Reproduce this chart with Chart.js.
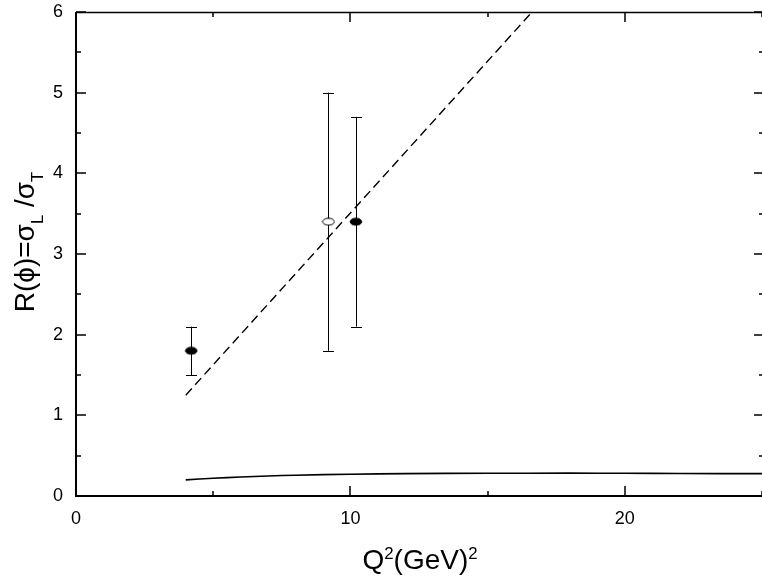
<!DOCTYPE html>
<html>
<head>
<meta charset="utf-8">
<script src="https://cdn.jsdelivr.net/npm/chart.js@4.4.1/dist/chart.umd.min.js"></script>
<style>
  html, body { margin: 0; padding: 0; background: #fff; }
  #wrap { width: 762px; height: 582px; }
</style>
</head>
<body>
<div id="wrap"><canvas id="chart"></canvas></div>
<script>
// measured points, filled (black) and open
const qFilled = [4.2, 10.2];
const rFilled = [1.8, 3.4];
const rFilledLo = [1.5, 2.1];
const rFilledHi = [2.1, 4.7];

const qOpen = [9.2];
const rOpen = [3.4];
const rOpenLo = [1.8];
const rOpenHi = [5.0];

// dashed straight line
const fitQ = [4.0, 16.62];
const fitR = [1.25, 6.0];

// solid theory curve
const curveQ = [4.0, 5.0, 6.0, 7.0, 8.0, 10.0, 12.0, 15.0, 18.0, 20.0, 22.0, 25.0];
const curveR = [0.20, 0.22, 0.235, 0.248, 0.258, 0.27, 0.277, 0.282, 0.283, 0.282, 0.279, 0.277];

const xTickValues = [0, 10, 20];
const yTickValues = [0, 1, 2, 3, 4, 5, 6];
const xMinorValues = [5, 15, 25];
const yMinorValues = [0.5, 1.5, 2.5, 3.5, 4.5, 5.5];

const FONT = "'Liberation Sans', Arial, sans-serif";

function toPoints(xs, ys) {
    return xs.map((x, i) => ({ x: x, y: ys[i] }));
}

function ellipseMarker(fill) {
    const c = document.createElement("canvas");
    c.width = 14;
    c.height = 9;
    const g = c.getContext("2d");
    g.beginPath();
    g.ellipse(7, 4.5, 5.8, 3.5, 0, 0, 2 * Math.PI);
    g.fillStyle = fill;
    g.fill();
    g.lineWidth = 1;
    g.strokeStyle = "#000";
    g.stroke();
    return c;
}

// error bars drawn under the markers
const errorBars = {
    id: "errorBars",
    beforeDatasetsDraw(chart) {
        const { ctx, scales: { x, y } } = chart;
        const sets = [
            [qFilled, rFilledLo, rFilledHi],
            [qOpen, rOpenLo, rOpenHi]
        ];
        ctx.save();
        ctx.strokeStyle = "#000";
        ctx.lineWidth = 1;
        sets.forEach(([qs, lo, hi]) => {
            qs.forEach((q, i) => {
                const px = Math.round(x.getPixelForValue(q)) + 0.5;
                const pLo = y.getPixelForValue(lo[i]);
                const pHi = y.getPixelForValue(hi[i]);
                ctx.beginPath();
                ctx.moveTo(px, pLo);
                ctx.lineTo(px, pHi);
                ctx.moveTo(px - 5.5, Math.round(pLo) + 0.5);
                ctx.lineTo(px + 5.5, Math.round(pLo) + 0.5);
                ctx.moveTo(px - 5.5, Math.round(pHi) + 0.5);
                ctx.lineTo(px + 5.5, Math.round(pHi) + 0.5);
                ctx.stroke();
            });
        });
        ctx.restore();
    }
};

// frame with inward ticks, plus axis titles
function richText(ctx, parts, size) {
    let w = 0;
    parts.forEach(p => {
        ctx.font = `${size * p.s}px ${FONT}`;
        p.w = ctx.measureText(p.t).width;
        w += p.w;
    });
    return w;
}

function drawRich(ctx, parts, size, x0, y0) {
    let x = x0;
    parts.forEach(p => {
        ctx.font = `${size * p.s}px ${FONT}`;
        ctx.fillText(p.t, x, y0 + p.dy * size);
        x += p.w;
    });
}

const frame = {
    id: "frame",
    afterDraw(chart) {
        const { ctx, chartArea: a, scales: { x, y } } = chart;
        ctx.save();
        ctx.strokeStyle = "#000";
        ctx.lineCap = "butt";

        // top line (right side of the box falls off the canvas)
        ctx.lineWidth = 1.5;
        ctx.beginPath();
        ctx.moveTo(a.left, a.top + 0.5);
        ctx.lineTo(a.right, a.top + 0.5);
        ctx.stroke();

        ctx.lineWidth = 2;
        ctx.beginPath();
        ctx.moveTo(a.left, a.top);
        ctx.lineTo(a.left, a.bottom);
        ctx.lineTo(a.right, a.bottom);
        ctx.stroke();

        ctx.lineWidth = 1.5;
        ctx.beginPath();
        const xt = xTickValues.map(v => [v, 10]).concat(xMinorValues.map(v => [v, 5]));
        xt.forEach(([v, len]) => {
            const px = Math.round(x.getPixelForValue(v));
            ctx.moveTo(px, a.bottom);
            ctx.lineTo(px, a.bottom - len);
            ctx.moveTo(px, a.top);
            ctx.lineTo(px, a.top + len);
        });
        const yt = yTickValues.map(v => [v, 10]).concat(yMinorValues.map(v => [v, 5]));
        yt.forEach(([v, len]) => {
            const py = Math.round(y.getPixelForValue(v));
            ctx.moveTo(a.left, py);
            ctx.lineTo(a.left + len, py);
            ctx.moveTo(a.right + 2, py);
            ctx.lineTo(a.right + 2 - len, py);
        });
        ctx.stroke();

        // axis titles with super / subscripts
        ctx.fillStyle = "#000";
        ctx.textBaseline = "alphabetic";
        ctx.textAlign = "left";
        const size = 28;
        const xParts = [
            { t: "Q", s: 1, dy: 0 },
            { t: "2", s: 0.6, dy: -0.34 },
            { t: "(GeV)", s: 1, dy: 0 },
            { t: "2", s: 0.6, dy: -0.34 }
        ];
        const xw = richText(ctx, xParts, size);
        drawRich(ctx, xParts, size, (a.left + a.right) / 2 - xw / 2 + 1, 569);

        const yParts = [
            { t: "R(\u03D5)=\u03C3", s: 1, dy: 0 },
            { t: "L", s: 0.6, dy: 0.32 },
            { t: " /\u03C3", s: 1, dy: 0 },
            { t: "T", s: 0.6, dy: 0.32 }
        ];
        const yw = richText(ctx, yParts, size);
        ctx.translate(34, 242);
        ctx.rotate(-Math.PI / 2);
        drawRich(ctx, yParts, size, -yw / 2, 0);
        ctx.restore();
    }
};

new Chart(document.getElementById("chart"), {
    type: "scatter",
    data: {
        datasets: [
            {
                data: toPoints(curveQ, curveR),
                showLine: true,
                borderColor: "#000",
                borderWidth: 1.6,
                pointRadius: 0,
                tension: 0.3
            },
            {
                data: toPoints(fitQ, fitR),
                showLine: true,
                borderColor: "#000",
                borderWidth: 1.4,
                borderDash: [9, 5],
                pointRadius: 0
            },
            {
                data: toPoints(qFilled, rFilled),
                pointStyle: ellipseMarker("#000"),
                pointRadius: 6
            },
            {
                data: toPoints(qOpen, rOpen),
                pointStyle: ellipseMarker("#fff"),
                pointRadius: 6
            }
        ]
    },
    options: {
        responsive: true,
        maintainAspectRatio: false,
        animation: false,
        layout: {
            autoPadding: false,
            padding: { top: 12, right: 0, left: 0, bottom: 0 }
        },
        plugins: {
            legend: { display: false },
            tooltip: { enabled: false }
        },
        scales: {
            x: {
                type: "linear",
                min: 0,
                max: 25,
                afterBuildTicks: scale => { scale.ticks = xTickValues.map(v => ({ value: v })); },
                afterFit: scale => {
                    scale.height = 86;
                    scale.paddingLeft = 0;
                    scale.paddingRight = 0;
                },
                grid: { display: false, drawTicks: false },
                border: { display: false },
                ticks: {
                    color: "#000",
                    padding: 12,
                    maxRotation: 0,
                    font: { family: FONT, size: 18 }
                }
            },
            y: {
                type: "linear",
                min: 0,
                max: 6,
                afterBuildTicks: scale => { scale.ticks = yTickValues.map(v => ({ value: v })); },
                afterFit: scale => {
                    scale.width = 76;
                    scale.paddingTop = 0;
                    scale.paddingBottom = 0;
                },
                grid: { display: false, drawTicks: false },
                border: { display: false },
                ticks: {
                    color: "#000",
                    padding: 13,
                    font: { family: FONT, size: 18 }
                }
            }
        }
    },
    plugins: [errorBars, frame]
});
</script>
</body>
</html>
